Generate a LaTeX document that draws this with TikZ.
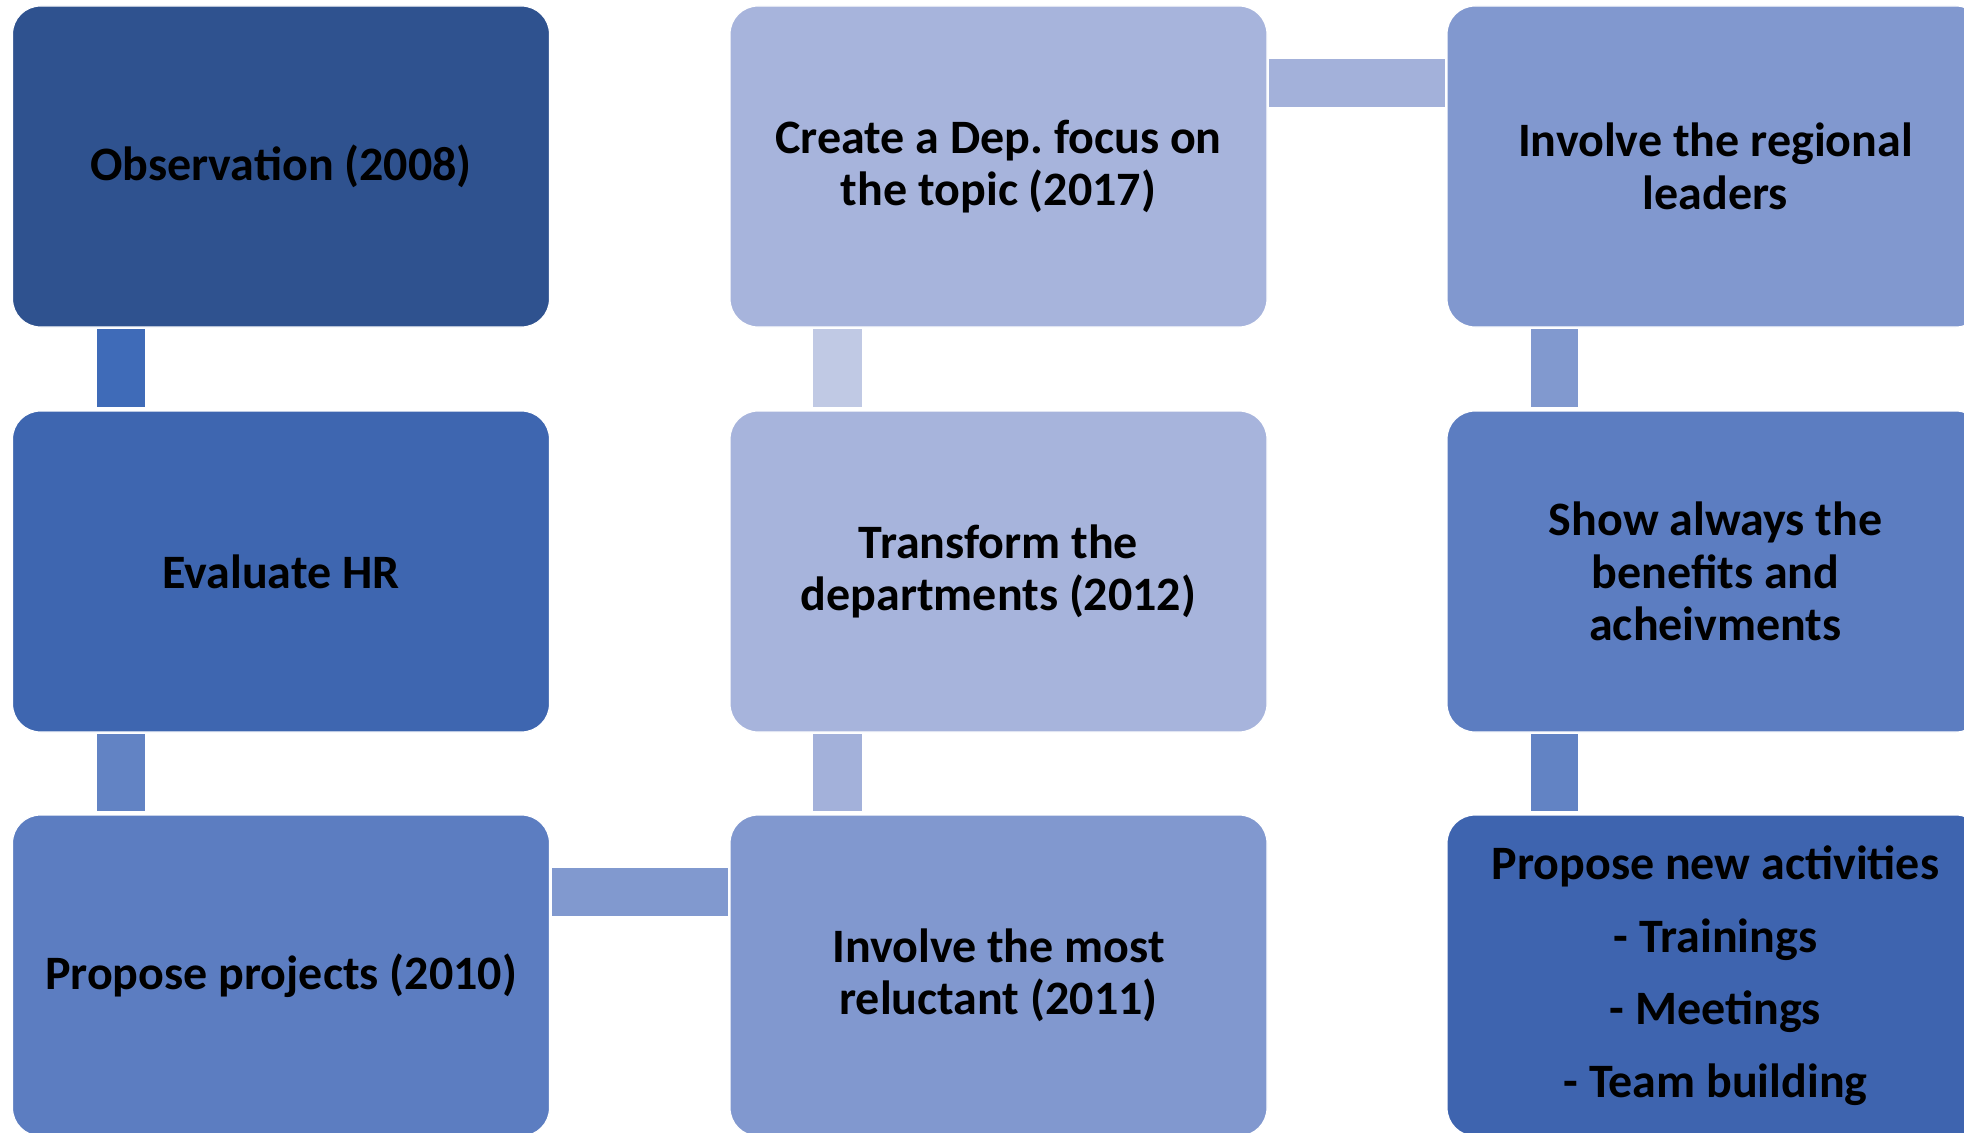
\documentclass[tikz,border=0pt]{standalone}
\usepackage{fontspec}
\setmainfont{Carlito}
\frenchspacing
\definecolor{cA}{HTML}{2F528F}
\definecolor{cB}{HTML}{3E66B0}
\definecolor{cC}{HTML}{5C7DC1}
\definecolor{cD}{HTML}{8198CF}
\definecolor{cE}{HTML}{A7B4DC}
\definecolor{cF}{HTML}{3E64AF}
\definecolor{kA}{HTML}{3F6BB8}
\definecolor{kB}{HTML}{6283C4}
\definecolor{kC}{HTML}{8199CF}
\definecolor{kD}{HTML}{A3B1DA}
\definecolor{kE}{HTML}{C0C9E4}
\begin{document}
\begin{tikzpicture}[x=1pt,y=-1pt,
  box/.style={draw=white, line width=1.2pt, rounded corners=28pt,
    minimum width=537pt, minimum height=321pt, inner sep=0pt, outer sep=0pt,
    anchor=north west, align=center, text=black,
    font=\fontsize{48}{52.5}\selectfont\bfseries}]
\useasboundingbox (0,0) rectangle (1964,1132);
% boxes
\node[box, fill=cA] (obs)   at (12.5,6)   {Observation (2008)};
\node[box, fill=cB] (eval)  at (12.5,411) {Evaluate HR};
\node[box, fill=cC] (prop)  at (12.5,815) {Propose projects (2010)};
\node[box, fill=cD] (rel)   at (730,815)  {Involve the most\\reluctant (2011)};
\node[box, fill=cE] (trans) at (730,411)  {Transform the\\departments (2012)};
\node[box, fill=cE] (dep)   at (730,6)    {Create a Dep. focus on\\the topic (2017)};
\node[box, fill=cD] (reg)   at (1447,6)   {Involve the regional\\leaders};
\node[box, fill=cC] (show)  at (1447,411) {Show always the\\benefits and\\acheivments};
\node[box, fill=cF] (act)   at (1447,815) {Propose new activities\\[20pt]- Trainings\\[20pt]- Meetings\\[20pt]- Team building};
% vertical connectors
\fill[kA] ([xshift=84pt,yshift=-2pt]obs.south west) rectangle ([xshift=132pt,yshift=4pt]eval.north west);
\fill[kB] ([xshift=84pt,yshift=-2pt]eval.south west) rectangle ([xshift=132pt,yshift=4pt]prop.north west);
\fill[kD] ([xshift=83pt,yshift=4pt]rel.north west) rectangle ([xshift=132pt,yshift=-2pt]trans.south west);
\fill[kE] ([xshift=83pt,yshift=4pt]trans.north west) rectangle ([xshift=132pt,yshift=-2pt]dep.south west);
\fill[kC] ([xshift=84pt,yshift=-2pt]reg.south west) rectangle ([xshift=131pt,yshift=4pt]show.north west);
\fill[kB] ([xshift=84pt,yshift=-2pt]show.south west) rectangle ([xshift=131pt,yshift=4pt]act.north west);
% horizontal connectors
\fill[kC] ([xshift=2pt,yshift=-53pt]prop.north east) rectangle ([xshift=-2pt,yshift=-101pt]rel.north west);
\fill[kD] ([xshift=2pt,yshift=-53pt]dep.north east) rectangle ([xshift=-2pt,yshift=-101pt]reg.north west);
\end{tikzpicture}
\end{document}
